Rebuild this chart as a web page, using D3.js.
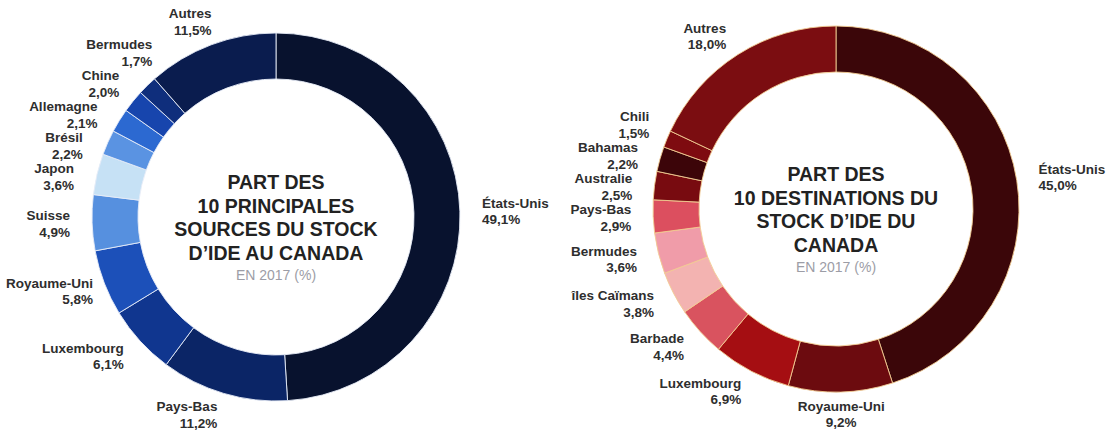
<!DOCTYPE html>
<html>
<head>
<meta charset="utf-8">
<script src="https://cdn.jsdelivr.net/npm/d3@7"></script>
<style>
  body { margin: 0; background: #fff; }
  svg { display: block; font-family: "Liberation Sans", Arial, sans-serif; }
</style>
</head>
<body>
<div id="chart"></div>
<script>
// sources du stock d'IDE au Canada
const srcCountries = ["États-Unis", "Pays-Bas", "Luxembourg", "Royaume-Uni", "Suisse", "Japon", "Brésil", "Allemagne", "Chine", "Bermudes", "Autres"];
const srcShares = [49.1, 11.2, 6.1, 5.8, 4.9, 3.6, 2.2, 2.1, 2.0, 1.7, 11.5];
const srcColors = ["#08122e", "#0b2566", "#10368f", "#1c50b9", "#5690df", "#c6e1f5", "#5a93e2", "#2c69d1", "#1745ad", "#0f2e7c", "#0a1c4e"];
const srcTitle = ["PART DES", "10 PRINCIPALES", "SOURCES DU STOCK", "D’IDE AU CANADA"];

// destinations du stock d'IDE du Canada
const dstCountries = ["États-Unis", "Royaume-Uni", "Luxembourg", "Barbade", "îles Caïmans", "Bermudes", "Pays-Bas", "Australie", "Bahamas", "Chili", "Autres"];
const dstShares = [45.0, 9.2, 6.9, 4.4, 3.8, 3.6, 2.9, 2.5, 2.2, 1.5, 18.0];
const dstColors = ["#3b0609", "#6c0b0f", "#a50e12", "#d9535f", "#f3b3b1", "#f09ca9", "#dc4f5f", "#780b10", "#3c0509", "#7e0b10", "#7b0d11"];
const dstTitle = ["PART DES", "10 DESTINATIONS DU", "STOCK D’IDE DU", "CANADA"];

const subTitle = "EN 2017 (%)";

const width = 1112, height = 436;
const fr = d3.formatLocale({ decimal: ",", thousands: " ", grouping: [3], currency: ["", " $"] });
const pct = fr.format(".1f");

const svg = d3.select("#chart").append("svg")
  .attr("width", width)
  .attr("height", height);

function donut(cx, cy, r, inner, names, values, colors, title, sep) {
  const g = svg.append("g");
  const color = d3.scaleOrdinal().domain(names).range(colors);
  const data = names.map((n, i) => ({ name: n, value: values[i] }));
  const arcs = d3.pie().sort(null).value(d => d.value)(data);
  const arc = d3.arc().innerRadius(inner).outerRadius(r);

  g.append("g")
    .attr("transform", "translate(" + cx + "," + cy + ")")
    .selectAll("path")
    .data(arcs)
    .join("path")
    .attr("d", arc)
    .attr("fill", d => color(d.data.name))
    .attr("stroke", sep)
    .attr("stroke-width", 0.9);

  // labels around the ring, pushed apart when they overlap
  const R = r + 22, gap = 31;
  const labels = arcs.map(a => {
    const mid = (a.startAngle + a.endAngle) / 2;
    const s = Math.sin(mid), c = Math.cos(mid);
    return {
      d: a.data, s: s, x: cx + R * s, y: cy - R * c,
      anchor: Math.abs(s) < 0.15 ? "middle" : (s > 0 ? "start" : "end")
    };
  });
  [labels.filter(l => l.s < 0), labels.filter(l => l.s >= 0)].forEach(side => {
    side.sort((a, b) => a.y - b.y);
    for (let k = 0; k < 60; k++) {
      for (let i = 0; i < side.length - 1; i++) {
        const dy = side[i + 1].y - side[i].y;
        if (dy < gap) {
          const shift = (gap - dy) / 2;
          side[i].y -= shift;
          side[i + 1].y += shift;
        }
      }
    }
    side.forEach(l => {
      if (l.anchor === "middle") return;
      const dy = l.y - cy;
      if (Math.abs(dy) < R) l.x = cx + Math.sign(l.s) * Math.sqrt(R * R - dy * dy);
    });
  });

  const t = g.selectAll(".lbl")
    .data(labels)
    .join("text")
    .attr("class", "lbl")
    .attr("text-anchor", d => d.anchor)
    .attr("font-size", 13.5)
    .attr("font-weight", "bold")
    .attr("fill", "#2e2e2e");
  t.append("tspan").attr("class", "nm").text(d => d.d.name);
  t.append("tspan").attr("class", "pc").text(d => pct(d.d.value) + "%");

  // keep every label inside the picture
  t.each(function (d) {
    const w = this.getComputedTextLength ? d3.max(d3.select(this).selectAll("tspan").nodes(), n => n.getComputedTextLength()) : 0;
    if (d.anchor === "end" && d.x - w < 6) d.x = w + 6;
    if (d.anchor === "start" && d.x + w > width - 6) d.x = width - 6 - w;
  });
  t.select(".nm").attr("x", d => d.x).attr("y", d => d.y - 3);
  t.select(".pc").attr("x", d => d.x).attr("y", d => d.y + 13.5);

  // centre title
  const top = cy - 35;
  g.selectAll(".ttl")
    .data(title)
    .join("text")
    .attr("class", "ttl")
    .attr("x", cx)
    .attr("y", (d, i) => top + 7 + i * 23.5)
    .attr("text-anchor", "middle")
    .attr("font-size", 19.5)
    .attr("font-weight", "bold")
    .attr("fill", "#222")
    .text(d => d);
  g.append("text")
    .attr("x", cx)
    .attr("y", top + 3 * 23.5 + 22 + 5)
    .attr("text-anchor", "middle")
    .attr("font-size", 14)
    .attr("fill", "#9c9da6")
    .text(subTitle);
}

donut(276, 217, 184, 138, srcCountries, srcShares, srcColors, srcTitle, "#e6ecf7");
donut(836, 209, 183, 137, dstCountries, dstShares, dstColors, dstTitle, "#f2cc92");
</script>
</body>
</html>
